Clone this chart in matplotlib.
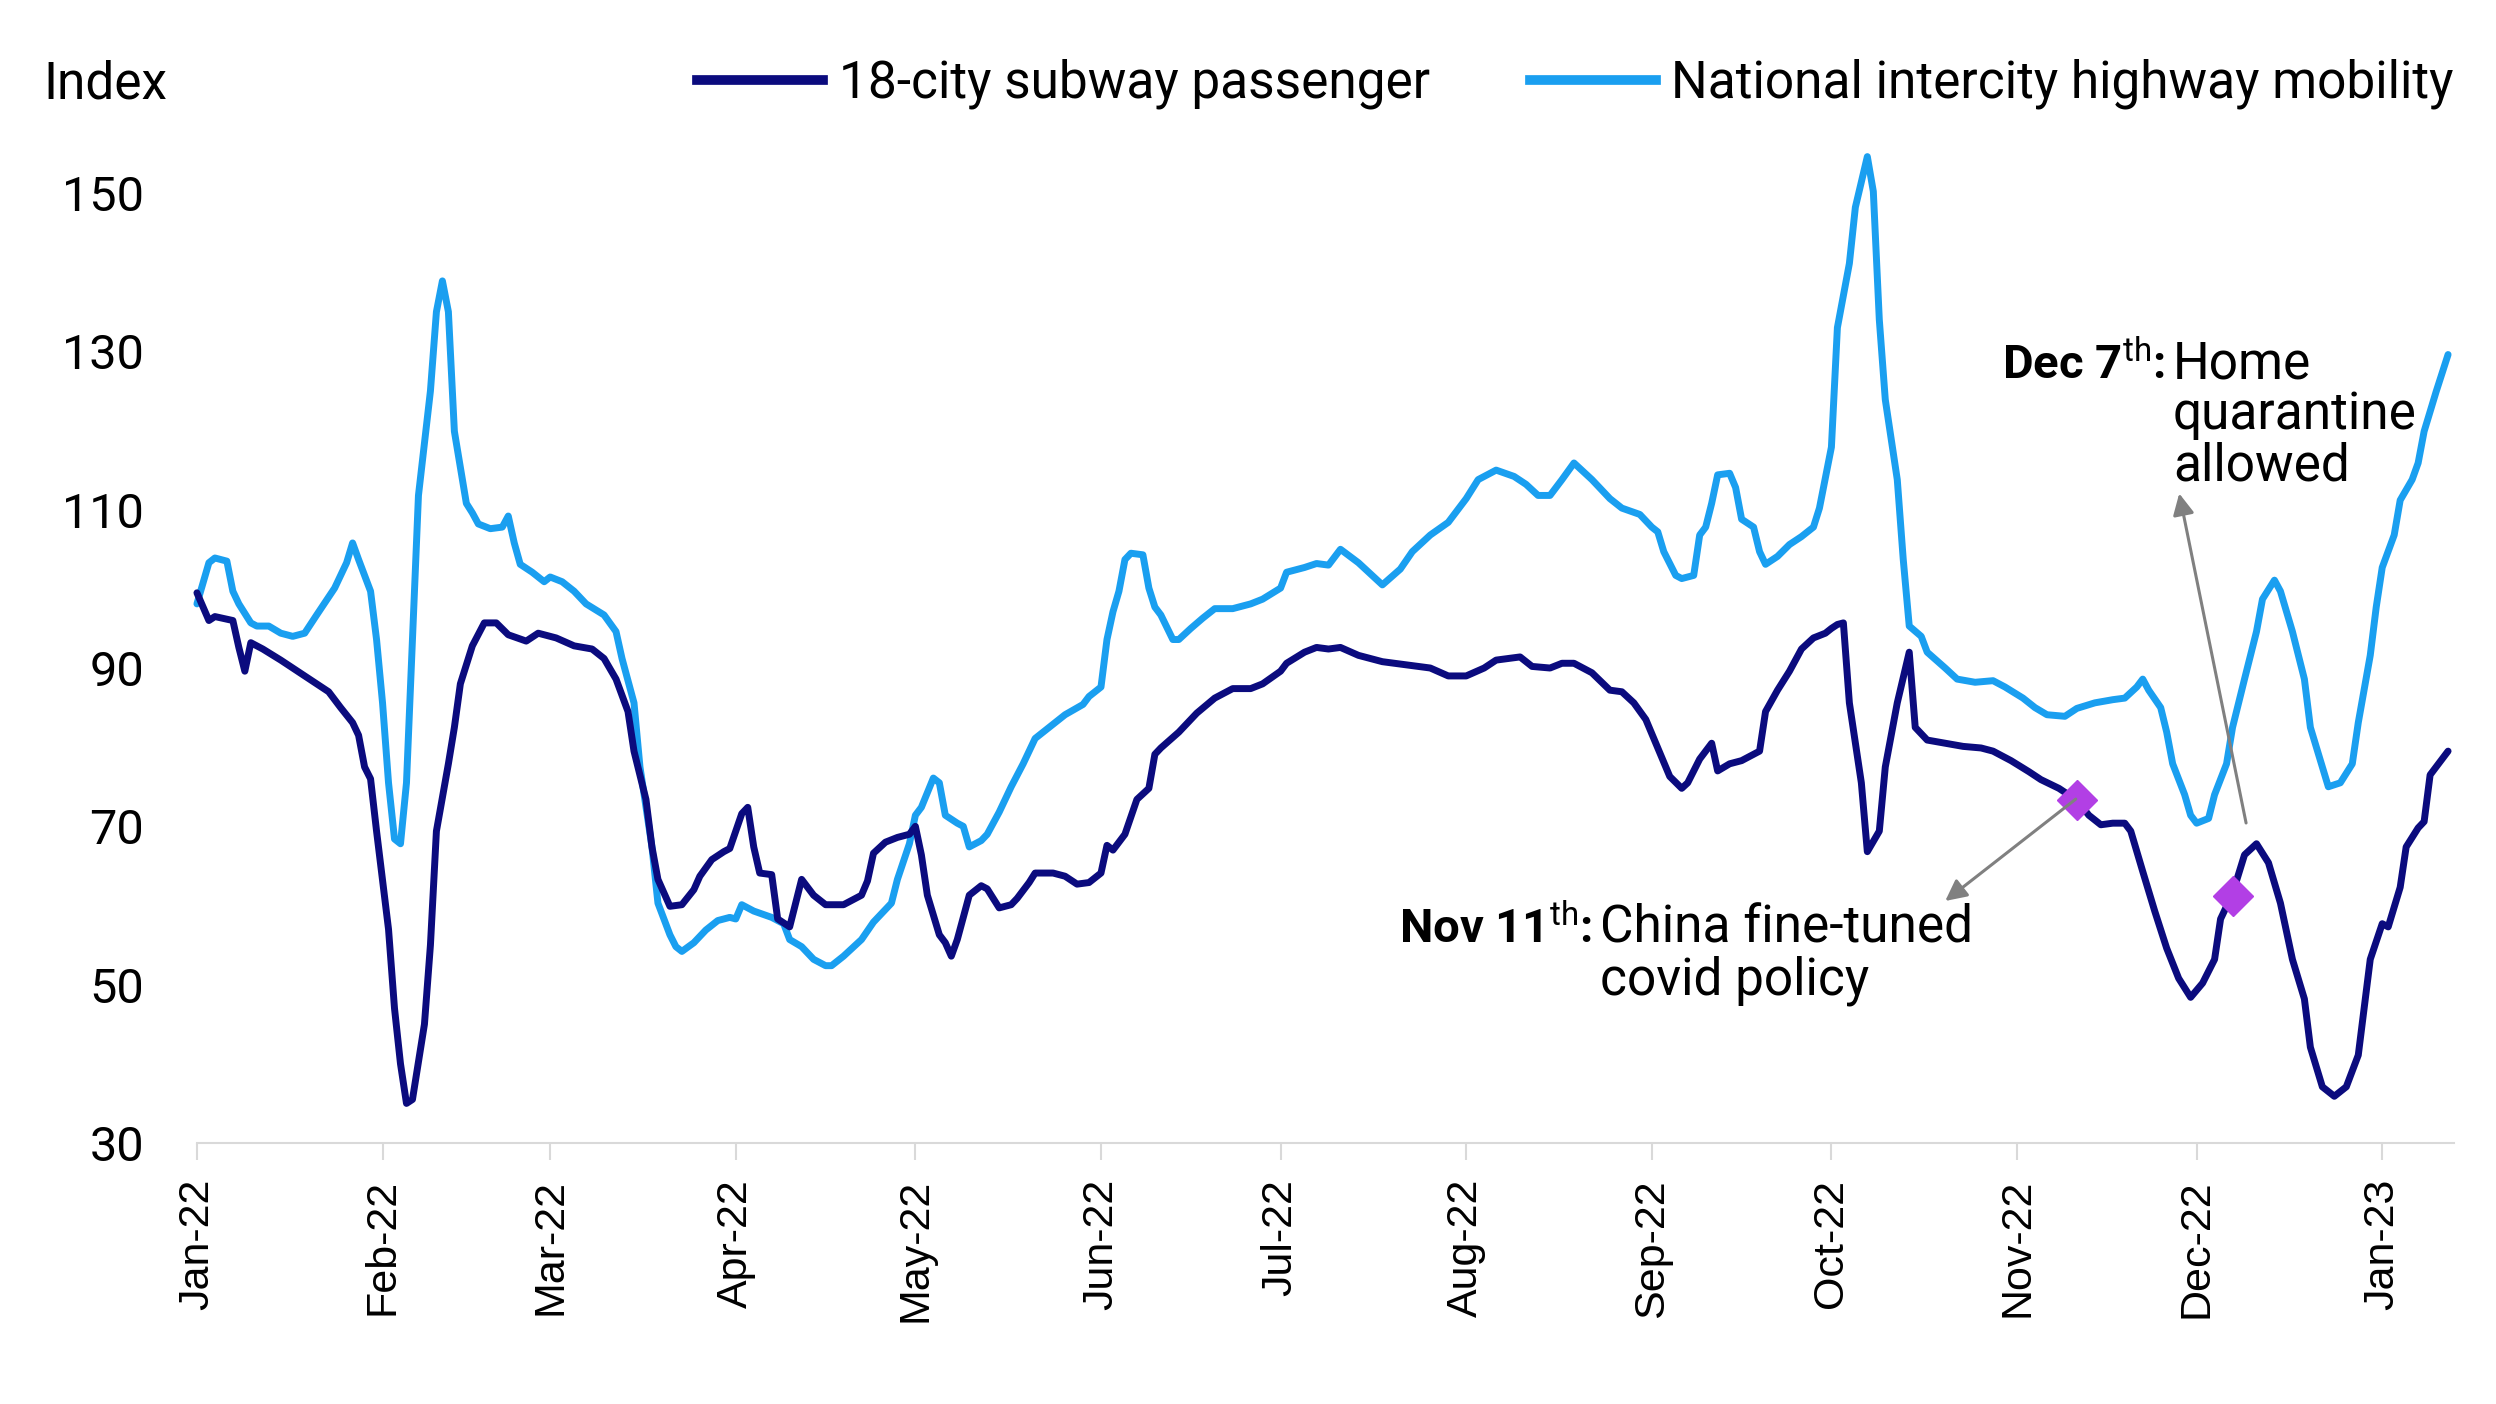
import matplotlib
matplotlib.use("Agg")
import matplotlib.pyplot as plt
import matplotlib.dates as mdates
from matplotlib.lines import Line2D
import pandas as pd

plt.rcParams['font.family'] = ['Roboto', 'DejaVu Sans']
plt.rcParams['mathtext.fontset'] = 'custom'
plt.rcParams['mathtext.rm'] = 'Roboto'
plt.rcParams['mathtext.bf'] = 'Roboto:bold'

# ---------------- data ----------------
start_date = "2022-01-01"

subway_days = [0, 2, 3, 6, 7, 8, 9, 11, 14, 18, 22, 24, 26, 27, 28, 29, 30, 32, 33, 34,
               35, 36, 38, 39, 40, 42, 43, 44, 46, 48, 50, 52, 55, 57, 60, 63, 66, 68, 70, 72,
               73, 75, 76, 77, 79, 81, 83, 84, 86, 88, 89, 91, 92, 93, 94, 96, 97, 99, 101, 103,
               105, 108, 111, 112, 113, 115, 117, 119, 120, 121, 122, 124, 125, 126, 127, 129, 131, 132, 134, 136,
               137, 139, 140, 143, 145, 147, 149, 151, 152, 153, 155, 157, 159, 160, 161, 164, 167, 170, 173, 176,
               178, 181, 182, 185, 187, 189, 191, 194, 198, 202, 206, 209, 212, 215, 217, 221, 223, 226, 228, 230,
               233, 236, 238, 240, 242, 244, 246, 248, 249, 251, 253, 254, 256, 258, 260, 261, 262, 264, 266, 268,
               270, 272, 273, 274, 275, 276, 278, 279, 281, 282, 284, 286, 287, 289, 292, 295, 298, 300, 303, 306,
               308, 311, 314, 316, 318, 320, 322, 323, 325, 327, 329, 331, 333, 335, 337, 338, 340, 342, 344, 346,
               348, 350, 352, 353, 355, 357, 359, 361, 362, 363, 365, 366, 368, 369, 371, 372, 373, 375, 376]
subway_vals = [99.5, 96.0, 96.5, 96.0, 92.6, 89.6, 93.2, 92.4, 91.0, 89.0, 87.0, 85.0, 83.1, 81.5, 77.5, 76.0, 69.4, 57.0, 47.0, 40.0,
               35.0, 35.5, 45.0, 55.0, 69.4, 77.9, 82.5, 88.0, 92.8, 95.7, 95.7, 94.2, 93.4, 94.4, 93.8, 92.8, 92.4, 91.2, 88.6, 84.5,
               79.5, 73.4, 67.4, 63.3, 59.9, 60.1, 62.0, 63.7, 65.8, 66.8, 67.2, 71.6, 72.4, 67.4, 64.1, 63.9, 58.3, 57.3, 63.3, 61.3,
               60.1, 60.1, 61.3, 63.1, 66.6, 68.0, 68.6, 69.0, 70.0, 66.4, 61.3, 56.3, 55.3, 53.6, 55.7, 61.3, 62.5, 62.1, 59.7, 60.1,
               60.9, 62.9, 64.1, 64.1, 63.7, 62.7, 62.9, 64.1, 67.6, 67.0, 69.0, 73.4, 74.8, 79.1, 79.9, 81.9, 84.3, 86.2, 87.4, 87.4,
               88.0, 89.6, 90.6, 92.0, 92.6, 92.4, 92.6, 91.6, 90.8, 90.4, 90.0, 89.0, 89.0, 90.0, 91.0, 91.4, 90.2, 90.0, 90.6, 90.6,
               89.4, 87.2, 87.0, 85.6, 83.5, 79.9, 76.3, 74.8, 75.5, 78.5, 80.5, 77.0, 77.9, 78.3, 79.1, 79.5, 84.5, 87.2, 89.6, 92.4,
               93.8, 94.4, 95.0, 95.5, 95.7, 85.6, 75.5, 66.8, 69.4, 77.5, 85.6, 92.0, 82.5, 80.9, 80.5, 80.1, 79.9, 79.5, 78.3, 76.9,
               75.9, 74.8, 73.3, 71.4, 70.2, 70.4, 70.4, 69.4, 64.3, 59.3, 54.6, 50.8, 48.4, 50.2, 53.2, 58.3, 61.5, 66.4, 67.8, 65.4,
               60.3, 53.2, 48.2, 42.1, 37.1, 35.9, 37.1, 41.1, 47.2, 53.2, 57.7, 57.3, 62.3, 67.4, 69.8, 70.6, 76.5, 78.5, 79.5]

highway_days = [0, 1, 2, 3, 5, 6, 7, 9, 10, 12, 14, 16, 18, 20, 23, 25, 26, 27, 29, 30,
                31, 32, 33, 34, 35, 36, 37, 39, 40, 41, 42, 43, 45, 46, 47, 49, 51, 52, 53, 54,
                56, 58, 59, 61, 63, 65, 68, 70, 71, 73, 74, 76, 77, 79, 80, 81, 83, 85, 87, 89,
                90, 91, 93, 96, 98, 99, 101, 103, 105, 106, 108, 111, 113, 116, 117, 119, 120, 121, 123, 124,
                125, 127, 128, 129, 131, 132, 134, 136, 138, 140, 143, 145, 148, 149, 151, 152, 153, 154, 155, 156,
                158, 159, 160, 161, 163, 164, 166, 168, 170, 173, 176, 178, 181, 182, 185, 187, 189, 191, 194, 198,
                201, 203, 206, 209, 212, 214, 217, 220, 222, 224, 226, 228, 230, 233, 236, 238, 241, 243, 244, 245,
                247, 248, 250, 251, 252, 253, 254, 256, 257, 258, 260, 261, 262, 264, 266, 268, 270, 271, 273, 274,
                276, 277, 279, 280, 281, 282, 284, 285, 286, 288, 289, 292, 294, 297, 300, 302, 305, 307, 309, 312,
                314, 317, 320, 322, 324, 325, 326, 328, 329, 330, 332, 333, 334, 336, 337, 339, 340, 342, 344, 345,
                347, 348, 350, 352, 353, 355, 356, 358, 360, 361, 363, 364, 365, 367, 368, 370, 371, 372, 374, 376]
highway_vals = [98.1, 100.7, 103.3, 103.9, 103.5, 99.7, 98.1, 95.7, 95.3, 95.3, 94.4, 94.0, 94.4, 96.7, 100.1, 103.3, 105.8, 103.7, 99.7, 93.6,
                85.6, 75.5, 68.4, 67.8, 75.5, 93.6, 111.8, 125.0, 135.0, 138.9, 135.0, 119.9, 110.8, 109.6, 108.2, 107.6, 107.8, 109.2, 105.8, 103.1,
                102.1, 100.9, 101.5, 100.9, 99.7, 98.1, 96.7, 94.6, 91.2, 85.6, 77.5, 67.4, 60.3, 56.3, 54.8, 54.2, 55.3, 56.9, 58.1, 58.5,
                58.3, 60.1, 59.3, 58.5, 57.7, 55.7, 54.8, 53.2, 52.4, 52.4, 53.6, 55.7, 57.9, 60.3, 63.3, 67.8, 71.4, 72.4, 76.1, 75.5,
                71.4, 70.4, 70.0, 67.4, 68.2, 69.0, 71.8, 75.0, 77.9, 81.1, 82.9, 84.1, 85.4, 86.4, 87.6, 93.6, 97.1, 99.7, 103.7, 104.5,
                104.3, 100.1, 97.7, 96.7, 93.6, 93.6, 95.0, 96.3, 97.5, 97.5, 98.1, 98.7, 100.1, 102.1, 102.7, 103.2, 103.0, 105.0, 103.3, 100.5,
                102.5, 104.7, 106.8, 108.4, 111.4, 113.8, 115.0, 114.2, 113.2, 111.8, 111.8, 113.8, 115.9, 113.8, 111.4, 110.2, 109.4, 107.8, 107.2, 104.7,
                101.7, 101.3, 101.7, 106.8, 107.8, 110.8, 114.4, 114.6, 112.8, 108.8, 107.8, 104.7, 103.1, 104.1, 105.6, 106.6, 107.8, 110.2, 117.9, 133.0,
                141.1, 148.2, 154.6, 150.2, 134.0, 123.9, 113.8, 103.7, 95.3, 94.0, 92.0, 90.0, 88.6, 88.2, 88.4, 87.6, 86.2, 85.0, 84.1, 83.9,
                84.9, 85.6, 86.0, 86.2, 87.6, 88.6, 87.2, 85.0, 81.9, 77.9, 74.0, 71.4, 70.4, 71.0, 74.0, 77.9, 82.5, 88.6, 94.6, 98.7,
                101.1, 99.7, 94.6, 88.6, 82.5, 77.5, 75.0, 75.5, 77.9, 83.1, 91.6, 97.7, 102.7, 106.8, 111.2, 113.8, 115.9, 119.9, 124.9, 129.6]

event_dates = ["2022-11-11", "2022-12-07"]
event_vals = [73.3, 61.2]

series_labels = ["18-city subway passenger", "National intercity highway mobility"]
y_ticks = [30, 50, 70, 90, 110, 130, 150]
month_ticks = pd.date_range("2022-01-01", "2023-01-01", freq="MS")

# ---------------- styling ----------------
NAVY = "#0b0b7e"
LIGHT = "#1a9ff0"
PURPLE = "#b23fe5"
GRID = "#d9d9d9"
ARROW = "#808080"

t0 = pd.Timestamp(start_date)
sub_dates = t0 + pd.to_timedelta(subway_days, unit="D")
hw_dates = t0 + pd.to_timedelta(highway_days, unit="D")

fig = plt.figure(figsize=(24.96, 14.04), dpi=100)
ax = fig.add_axes([0.0789, 0.1859, 0.9043, 0.7048])

ax.plot(hw_dates, highway_vals, color=LIGHT, lw=5.0, zorder=2, clip_on=False,
        solid_joinstyle="round", solid_capstyle="round")
ax.plot(sub_dates, subway_vals, color=NAVY, lw=5.0, zorder=2.5, clip_on=False,
        solid_joinstyle="round", solid_capstyle="round")
ax.plot(pd.to_datetime(event_dates), event_vals, linestyle="none", marker="D",
        markersize=20, color=PURPLE, zorder=3)

ax.set_xlim(t0, t0 + pd.Timedelta(days=377))
ax.set_ylim(30, 155)
ax.set_yticks(y_ticks)
ax.set_xticks(month_ticks)
ax.xaxis.set_major_formatter(mdates.DateFormatter("%b-%y"))

for s in ["top", "right", "left"]:
    ax.spines[s].set_visible(False)
ax.spines["bottom"].set_color(GRID)
ax.spines["bottom"].set_linewidth(1.5)

ax.tick_params(axis="x", length=12, width=1.5, color=GRID, pad=14,
               labelsize=31, labelrotation=90, labelcolor="black")
ax.tick_params(axis="y", length=0, pad=38, labelsize=35, labelcolor="black")
for lab in ax.get_xticklabels():
    lab.set_fontfamily(["Liberation Sans", "DejaVu Sans"])

# legend
fs = 37
handles = [Line2D([0], [0], color=NAVY, lw=7), Line2D([0], [0], color=LIGHT, lw=7)]
fig.legend(handles, series_labels, loc="center right", bbox_to_anchor=(0.983, 0.94),
           ncol=2, frameon=False, fontsize=fs, handlelength=2.45, handletextpad=0.3,
           columnspacing=1.95, borderpad=0, borderaxespad=0)

fig.text(0.0172, 0.94, "Index", fontsize=fs, ha="left", va="center")

# annotations
fig.text(0.6378, 0.339, r"Nov 11$^{\rm th}$:", fontsize=34, fontweight="bold",
         ha="right", va="center")
fig.text(0.6409, 0.339, "China fine-tuned", fontsize=fs, ha="left", va="center")
fig.text(0.6409, 0.3016, "covid policy", fontsize=fs, ha="left", va="center")

fig.text(0.8673, 0.7404, r"Dec 7$^{\rm th}$:", fontsize=34, fontweight="bold",
         ha="right", va="center")
fig.text(0.8705, 0.7404, "Home", fontsize=fs, ha="left", va="center")
fig.text(0.8705, 0.7041, "quarantine", fontsize=fs, ha="left", va="center")
fig.text(0.8705, 0.6678, "allowed", fontsize=fs, ha="left", va="center")

arrow_kw = dict(arrowstyle="-|>", color=ARROW, lw=2.2, mutation_scale=32,
                shrinkA=0, shrinkB=0)
ax.annotate("", xy=(1222 / 1568, 1 - 566 / 882), xycoords="figure fraction",
            xytext=(1304 / 1568, 1 - 502 / 882), textcoords="figure fraction",
            arrowprops=arrow_kw, zorder=4)
ax.annotate("", xy=(1369 / 1568, 1 - 310 / 882), xycoords="figure fraction",
            xytext=(1411 / 1568, 1 - 517 / 882), textcoords="figure fraction",
            arrowprops=arrow_kw, zorder=4)

fig.savefig("out.png", dpi=100)
